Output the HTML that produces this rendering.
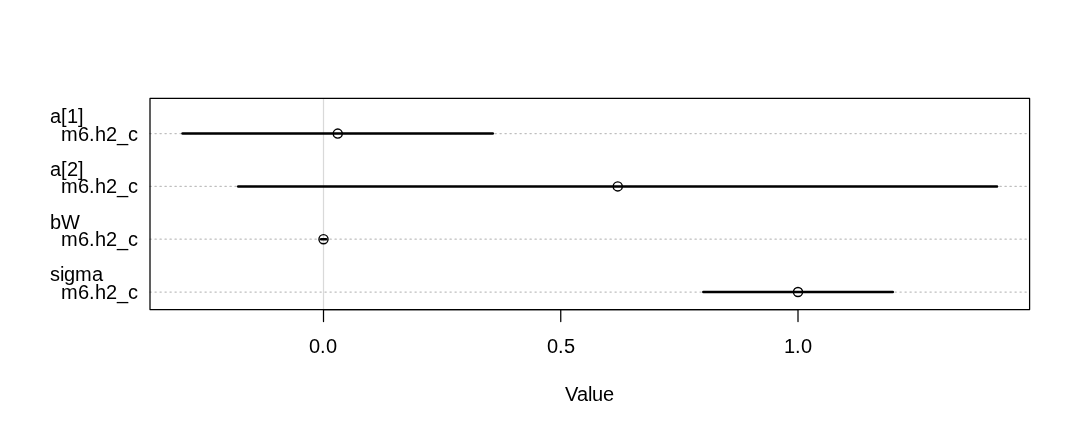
<!DOCTYPE html>
<html>
<head>
<meta charset="utf-8">
<title>coeftab plot</title>
<style>
  html, body { margin: 0; padding: 0; background: #ffffff; }
  body { width: 1080px; height: 432px; overflow: hidden; }
  svg { display: block; will-change: transform; }
  text { font-family: "Liberation Sans", sans-serif; font-size: 20px; fill: #000000; }
</style>
</head>
<body>
<svg xmlns="http://www.w3.org/2000/svg" width="1080" height="432" viewBox="0 0 1080 432">
  <rect x="0" y="0" width="1080" height="432" fill="#ffffff"/>

  <!-- dotted grid lines -->
  <g stroke="#bebebe" stroke-width="1.25" stroke-dasharray="1.25 3.75" stroke-linecap="round" fill="none">
    <line x1="150.0" y1="133.6" x2="1029.6" y2="133.6"/>
    <line x1="150.0" y1="186.4" x2="1029.6" y2="186.4"/>
    <line x1="150.0" y1="239.2" x2="1029.6" y2="239.2"/>
    <line x1="150.0" y1="292.0" x2="1029.6" y2="292.0"/>
  </g>

  <!-- zero reference line -->
  <line x1="323.5" y1="98.4" x2="323.5" y2="309.6" stroke="#000000" stroke-opacity="0.15" stroke-width="1.25"/>

  <!-- intervals -->
  <g stroke="#000000" stroke-width="2.5" stroke-linecap="round" fill="none">
    <line x1="182.55" y1="133.6" x2="492.8" y2="133.6"/>
    <line x1="238.2" y1="186.4" x2="997.0" y2="186.4"/>
    <line x1="321.1" y1="239.2" x2="326.1" y2="239.2"/>
    <line x1="703.3" y1="292.0" x2="892.8" y2="292.0"/>
  </g>

  <!-- points -->
  <g stroke="#000000" stroke-width="1.4" fill="none">
    <circle cx="337.75" cy="133.6" r="4.55"/>
    <circle cx="617.75" cy="186.4" r="4.55"/>
    <circle cx="323.5" cy="239.2" r="4.55"/>
    <circle cx="798.0" cy="292.0" r="4.55"/>
  </g>

  <!-- box -->
  <rect x="150.0" y="98.4" width="879.6" height="211.2" fill="none" stroke="#000000" stroke-width="1.25" stroke-linejoin="round"/>

  <!-- axis ticks -->
  <g stroke="#000000" stroke-width="1.25" stroke-linecap="round" fill="none">
    <line x1="323.5" y1="309.6" x2="798.0" y2="309.6"/>
    <line x1="323.5" y1="309.6" x2="323.5" y2="321.6"/>
    <line x1="560.75" y1="309.6" x2="560.75" y2="321.6"/>
    <line x1="798.0" y1="309.6" x2="798.0" y2="321.6"/>
  </g>

  <!-- axis tick labels -->
  <g>
    <text x="309 320 326" y="353">0.0</text>
    <text x="547 558 564" y="353">0.5</text>
    <text x="784 795 801" y="353">1.0</text>
    <text x="565 577 588 592 603" y="401">Value</text>
  </g>

  <!-- group labels -->
  <g>
    <text x="50 61 67 78" y="123">a[1]</text>
    <text x="50 61 67 78" y="176">a[2]</text>
    <text x="50 61" y="229">bW</text>
    <text x="50 60 64 75 92" y="281">sigma</text>
  </g>

  <!-- item labels -->
  <g>
    <text x="61 78 89 95 106 117 128" y="141">m6.h2_c</text>
    <text x="61 78 89 95 106 117 128" y="193">m6.h2_c</text>
    <text x="61 78 89 95 106 117 128" y="246">m6.h2_c</text>
    <text x="61 78 89 95 106 117 128" y="299">m6.h2_c</text>
  </g>
</svg>
</body>
</html>
